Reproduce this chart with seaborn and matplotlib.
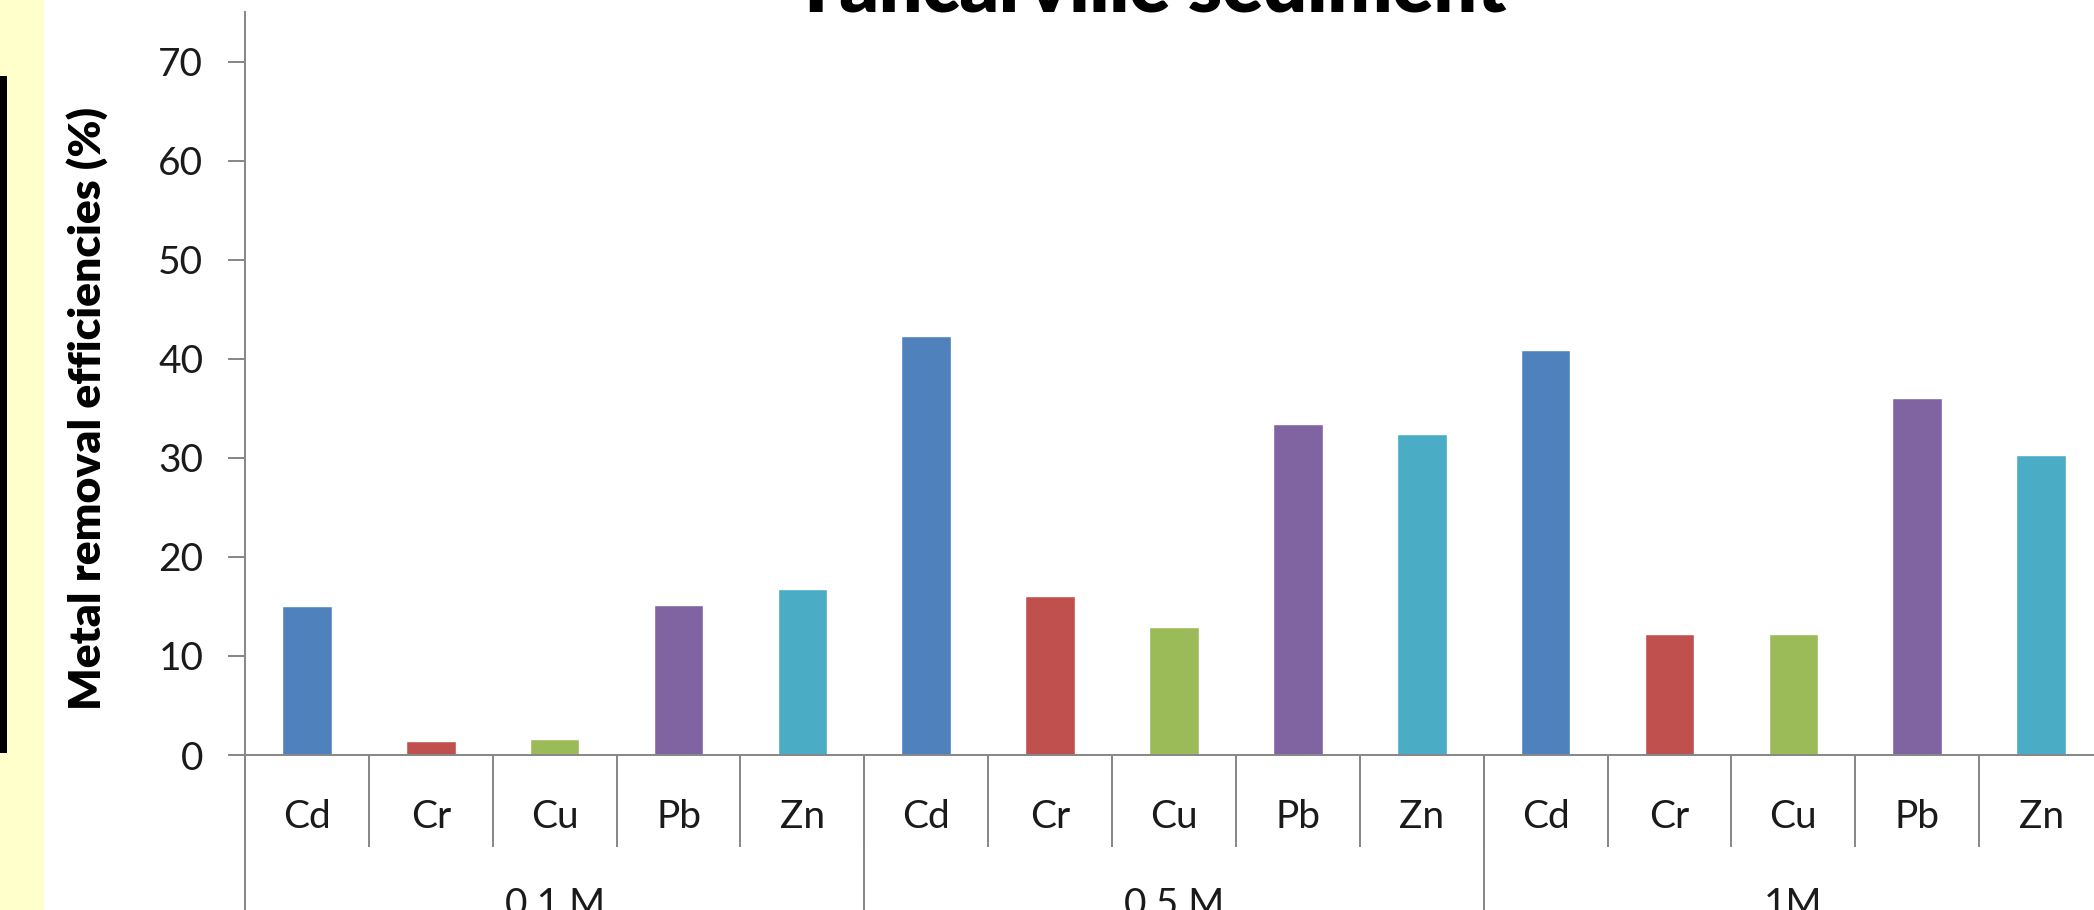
import numpy as np
import pandas as pd
import seaborn as sns
import matplotlib.pyplot as plt
from matplotlib.patches import Rectangle

# values (%)
concentrations = ['0.1 M', '0.5 M', '1M']
metals = ['Cd', 'Cr', 'Cu', 'Pb', 'Zn']
removal_01M = [15.0, 1.4, 1.65, 15.2, 16.8]
removal_05M = [42.3, 16.1, 12.9, 33.4, 32.4]
removal_1M = [40.9, 12.25, 12.25, 36.1, 30.3]
metal_colors = ['#4F81BD', '#C0504D', '#9BBB59', '#8064A2', '#4BACC6']
yticks = [0, 10, 20, 30, 40, 50, 60, 70]

sns.set_theme(style='white')
plt.rcParams['font.family'] = ['Lato', 'DejaVu Sans']

rows = []
for conc, vals in zip(concentrations, [removal_01M, removal_05M, removal_1M]):
    for metal, v in zip(metals, vals):
        rows.append({'bar': f'{conc} {metal}', 'metal': metal, 'conc': conc, 'removal': v})
df = pd.DataFrame(rows)
n = len(df)
k = len(metals)

W, H = 2094, 910
fig = plt.figure(figsize=(W / 100, H / 100), dpi=100)
fig.patch.set_facecolor('white')
ax = fig.add_axes([245 / W, 155 / H, 1858 / W, 743 / H])

sns.barplot(data=df, x='bar', y='removal', hue='metal',
            palette=dict(zip(metals, metal_colors)), dodge=False,
            width=0.4, saturation=1, legend=False, ax=ax)

grey = '#868686'
txt = '#1a1a1a'
ax.set_xlim(-0.5, n - 0.5)
ax.set_ylim(0, 75.05)
ax.set_yticks(yticks)
ax.set_xticks(range(n))
ax.set_xticklabels(df['metal'])
ax.set_xticks(np.arange(n + 1) - 0.5, minor=True)
ax.tick_params(axis='x', which='major', bottom=True, length=0, pad=32,
               labelsize=28, labelcolor=txt)
ax.tick_params(axis='x', which='minor', bottom=True, length=66, width=1.4,
               color=grey, direction='out')
ax.tick_params(axis='y', left=True, length=12, width=1.4, color=grey,
               direction='out', pad=18, labelsize=28, labelcolor=txt)
for s in ['top', 'right']:
    ax.spines[s].set_visible(False)
for s in ['left', 'bottom']:
    ax.spines[s].set_color(grey)
    ax.spines[s].set_linewidth(1.4)
ax.set_xlabel('')
ax.set_ylabel('Metal removal efficiencies (%)', fontsize=32, fontweight='heavy', color='black')
ax.yaxis.set_label_coords(-0.074, 0.466)

# group separators and group labels
sep = ax.secondary_xaxis('bottom')
sep.set_xticks([i * k - 0.5 for i in range(len(concentrations) + 1)])
sep.tick_params(bottom=True, length=130, width=1.4, color=grey,
                direction='out', labelbottom=False)
sep.spines['bottom'].set_visible(False)

grp = ax.secondary_xaxis('bottom')
grp.set_xticks([i * k + (k - 1) / 2 for i in range(len(concentrations))])
grp.set_xticklabels(concentrations)
grp.tick_params(bottom=True, length=0, pad=95, labelsize=28, labelcolor=txt)
grp.spines['bottom'].set_visible(False)

# slide background strip on the left
fig.patches.append(Rectangle((0, 0), 44 / W, 1, transform=fig.transFigure,
                             facecolor='#FFFFCC', edgecolor='none', zorder=0))
fig.patches.append(Rectangle((0, (H - 753) / H), 7 / W, (753 - 76) / H,
                             transform=fig.transFigure, facecolor='black',
                             edgecolor='none', zorder=1))

fig.text(1150 / W, 1 - 12 / H, 'Tancarville sediment', ha='center',
         va='baseline', fontsize=55, fontweight='heavy', color='black')

fig.savefig('out.png', dpi=100)
